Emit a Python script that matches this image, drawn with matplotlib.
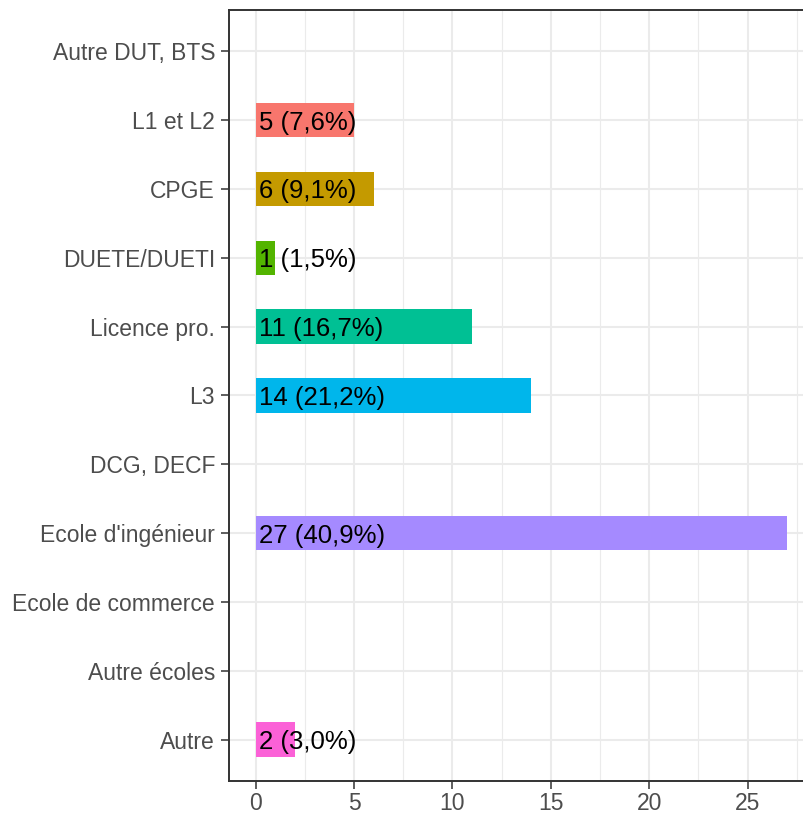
import matplotlib
matplotlib.use("Agg")
import matplotlib.pyplot as plt
from matplotlib.ticker import MultipleLocator

# data, top to bottom
categories = ["Autre DUT, BTS", "L1 et L2", "CPGE", "DUETE/DUETI", "Licence pro.",
              "L3", "DCG, DECF", "Ecole d'ingénieur", "Ecole de commerce",
              "Autre écoles", "Autre"]
counts = [0, 5, 6, 1, 11, 14, 0, 27, 0, 0, 2]
colors = [None, "#F8766D", "#C49A00", "#53B400", "#00C094",
          "#00B6EB", None, "#A58AFF", None, None, "#FB61D7"]
x_ticks = [0, 5, 10, 15, 20, 25]

plt.rcParams["font.family"] = ["Liberation Sans", "DejaVu Sans"]

total = sum(counts)
n = len(categories)
ypos = [n - 1 - i for i in range(n)]

fig = plt.figure(figsize=(8.04, 8.14), dpi=100)
ax = fig.add_axes([229 / 804, 33 / 814, 584.5 / 804, 771 / 814])

for y, c, col in zip(ypos, counts, colors):
    if c == 0:
        continue
    ax.barh(y, c, height=0.5, color=col, zorder=2)
    pct = f"{100 * c / total:.1f}".replace(".", ",")
    ax.text(0.15, y, f"{c} ({pct}%)", ha="left", va="center_baseline",
            fontsize=18.5, color="black", zorder=3)

ax.set_xlim(-1.35, 28.35)
ax.set_ylim(-0.6, n - 0.4)
ax.set_xticks(x_ticks)
ax.xaxis.set_minor_locator(MultipleLocator(2.5))
ax.set_yticks(ypos)
ax.set_yticklabels(categories)

ax.grid(which="major", color="#EBEBEB", linewidth=1.5, zorder=0)
ax.grid(which="minor", axis="x", color="#EBEBEB", linewidth=0.8, zorder=0)
ax.set_axisbelow(True)

for side in ["left", "top", "bottom"]:
    ax.spines[side].set_color("#333333")
    ax.spines[side].set_linewidth(1.4)
ax.spines["right"].set_visible(False)

ax.tick_params(axis="both", which="major", length=6, width=1.1, color="#333333",
               labelsize=16.5, labelcolor="#4D4D4D")
ax.tick_params(axis="x", which="major", pad=2)
ax.tick_params(axis="y", which="major", pad=4)
ax.tick_params(axis="both", which="minor", length=0)

fig.savefig("out.png", dpi=100)
